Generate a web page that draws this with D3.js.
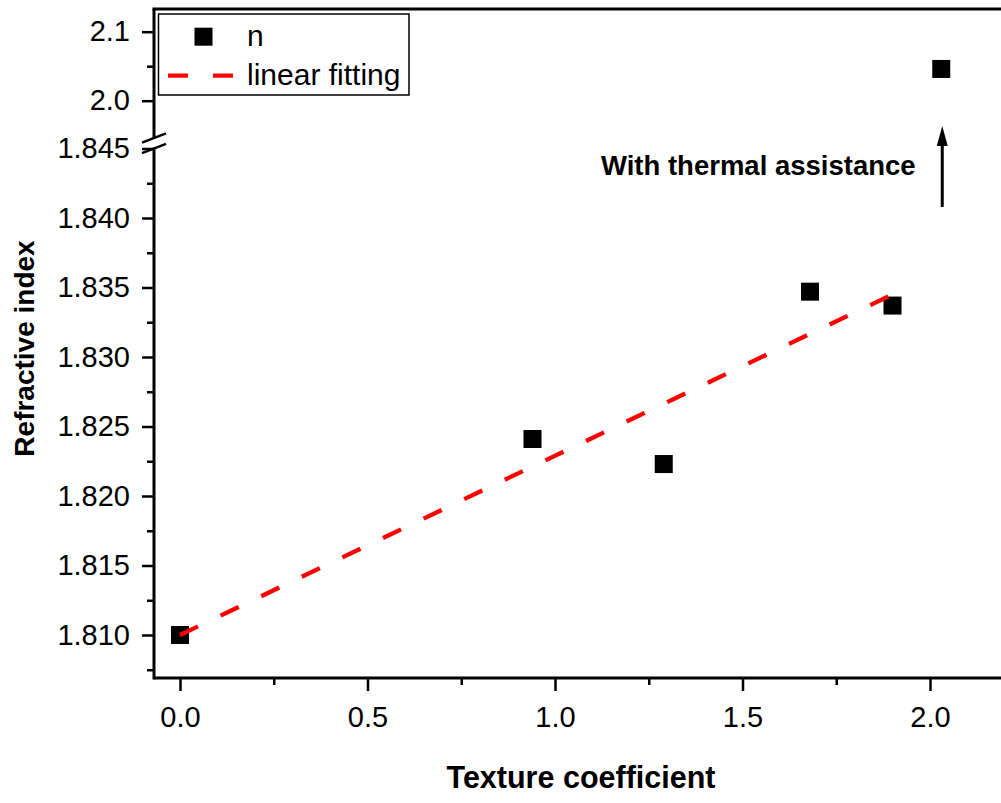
<!DOCTYPE html>
<html><head><meta charset="utf-8">
<script src="https://cdn.jsdelivr.net/npm/d3@7"></script>
<style>body{margin:0;background:#fff} svg{display:block}</style>
</head><body>
<svg id="c" width="1001" height="803"></svg>
<script>
// ---- data ----
const textureCoeff = [0, 0.94, 1.29, 1.68, 1.90];
const refractiveIdx = [1.8100, 1.8241, 1.8223, 1.8347, 1.8337];
const thermalX = [2.03];
const thermalY = [2.046];
const fitX = [0, 1.90];
const fitY = [1.8100, 1.8345];
const xMajorTicks = [0, 0.5, 1.0, 1.5, 2.0];
const xMinorTicks = [0.25, 0.75, 1.25, 1.75];
const yLowerMajor = [1.810, 1.815, 1.820, 1.825, 1.830, 1.835, 1.840, 1.845];
const yLowerMinor = [1.8075, 1.8125, 1.8175, 1.8225, 1.8275, 1.8325, 1.8375, 1.8425];
const yUpperMajor = [2.0, 2.1];
const yUpperMinor = [2.05];
const legendLabels = ["n", "linear fitting"];
const xTitle = "Texture coefficient";
const yTitle = "Refractive index";
const annotation = "With thermal assistance";

// ---- layout ----
const svg = d3.select("#c");
const plotL = 154, plotR = 1001, plotT = 9, plotB = 678;
const breakLow = 148.5, breakHigh = 138;
const FONT = "'Liberation Sans', Arial, sans-serif";

const x = d3.scaleLinear().domain([0, 2]).range([180, 930]);
const yLow = d3.scaleLinear().domain([1.810, 1.845]).range([635, 148.5]);
const yUp = d3.scaleLinear().domain([2.0, 2.1]).range([100.7, 31.7]);

function styleAxis(g, fs) {
  g.select(".domain").remove();
  g.selectAll(".tick line").attr("stroke", "#000").attr("stroke-width", 2.5);
  g.selectAll(".tick text").attr("fill", "#000").style("font-family", FONT).style("font-size", fs + "px");
}

// x axis
const gx = svg.append("g").attr("transform", `translate(0,${plotB})`)
  .call(d3.axisBottom(x).tickValues(xMajorTicks).tickFormat(d3.format(".1f")).tickSize(13).tickPadding(15));
styleAxis(gx, 29);
const gxm = svg.append("g").attr("transform", `translate(0,${plotB})`)
  .call(d3.axisBottom(x).tickValues(xMinorTicks).tickFormat("").tickSize(7));
styleAxis(gxm, 29);

// y axes
const gyl = svg.append("g").attr("transform", `translate(${plotL},0)`)
  .call(d3.axisLeft(yLow).tickValues(yLowerMajor).tickFormat(d3.format(".3f")).tickSize(12).tickPadding(12));
styleAxis(gyl, 29);
const gylm = svg.append("g").attr("transform", `translate(${plotL},0)`)
  .call(d3.axisLeft(yLow).tickValues(yLowerMinor).tickFormat("").tickSize(7));
styleAxis(gylm, 29);
const gyu = svg.append("g").attr("transform", `translate(${plotL},0)`)
  .call(d3.axisLeft(yUp).tickValues(yUpperMajor).tickFormat(d3.format(".1f")).tickSize(12).tickPadding(12));
styleAxis(gyu, 29);
const gyum = svg.append("g").attr("transform", `translate(${plotL},0)`)
  .call(d3.axisLeft(yUp).tickValues(yUpperMinor).tickFormat("").tickSize(7));
styleAxis(gyum, 29);

// axis lines
const ax = svg.append("g").attr("stroke", "#000").attr("stroke-width", 3).attr("fill", "none");
ax.append("line").attr("x1", plotL).attr("x2", plotR).attr("y1", plotB).attr("y2", plotB);
ax.append("line").attr("x1", plotL - 1.5).attr("x2", plotR).attr("y1", plotT).attr("y2", plotT);
ax.append("line").attr("x1", plotL).attr("x2", plotL).attr("y1", plotB + 1.5).attr("y2", breakLow);
ax.append("line").attr("x1", plotL).attr("x2", plotL).attr("y1", breakHigh).attr("y2", plotT);
// break marks
const br = svg.append("g").attr("stroke", "#000").attr("stroke-width", 2.5);
[breakHigh, breakLow].forEach(yc => {
  br.append("line").attr("x1", plotL - 12).attr("y1", yc + 4.6).attr("x2", plotL + 12).attr("y2", yc - 4.6);
});

const fitPts = fitX.map((d, i) => [x(d), yLow(fitY[i])]);

// markers
const ms = 18;
svg.append("g").selectAll("rect").data(textureCoeff.map((d, i) => [d, refractiveIdx[i]]))
  .join("rect")
  .attr("x", d => x(d[0]) - ms / 2).attr("y", d => yLow(d[1]) - ms / 2)
  .attr("width", ms).attr("height", ms).attr("fill", "#000");
svg.append("g").selectAll("rect").data(thermalX.map((d, i) => [d, thermalY[i]]))
  .join("rect")
  .attr("x", d => x(d[0]) - ms / 2).attr("y", d => yUp(d[1]) - ms / 2)
  .attr("width", ms).attr("height", ms).attr("fill", "#000");

// fit line (drawn above markers)
svg.append("path").attr("d", d3.line()(fitPts))
  .attr("fill", "none").attr("stroke", "#ff0000").attr("stroke-width", 4.3)
  .attr("stroke-dasharray", "20,25");

// arrow + annotation
const arrX = x(thermalX[0]) + 1;
svg.append("line").attr("x1", arrX).attr("x2", arrX).attr("y1", 207).attr("y2", 140)
  .attr("stroke", "#000").attr("stroke-width", 3);
svg.append("path").attr("d", `M${arrX},126 L${arrX - 5.5},146 L${arrX + 5.5},146 Z`).attr("fill", "#000");
svg.append("text").attr("x", 601).attr("y", 175).text(annotation)
  .style("font-family", FONT).style("font-size", "27.5px").style("font-weight", "bold").attr("fill", "#000");

// legend
const lg = svg.append("g");
lg.append("rect").attr("x", 158.5).attr("y", 14).attr("width", 250.5).attr("height", 81)
  .attr("fill", "#fff").attr("stroke", "#000").attr("stroke-width", 1.5);
lg.append("rect").attr("x", 203.5 - ms / 2).attr("y", 36.7 - ms / 2).attr("width", ms).attr("height", ms).attr("fill", "#000");
lg.append("line").attr("x1", 168).attr("x2", 233).attr("y1", 75.7).attr("y2", 75.7)
  .attr("stroke", "#ff0000").attr("stroke-width", 4.3).attr("stroke-dasharray", "20,25");
lg.selectAll("text.l").data(legendLabels).join("text").attr("class", "l")
  .attr("x", 247).attr("y", (d, i) => [46, 85][i]).text(d => d)
  .style("font-family", FONT).style("font-size", "30px").attr("fill", "#000");

// titles
svg.append("text").attr("x", 581).attr("y", 788).attr("text-anchor", "middle").text(xTitle)
  .style("font-family", FONT).style("font-size", "30.5px").style("font-weight", "bold").attr("fill", "#000");
svg.append("text").attr("transform", "translate(34,348.5) rotate(-90)").attr("text-anchor", "middle").text(yTitle)
  .style("font-family", FONT).style("font-size", "28px").style("font-weight", "bold").attr("fill", "#000");
</script>
</body></html>
